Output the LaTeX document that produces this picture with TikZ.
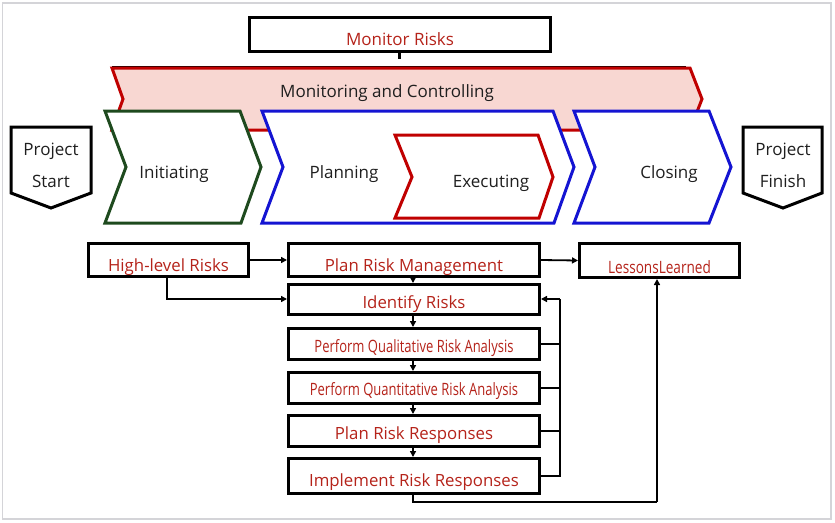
\documentclass[tikz,border=0pt]{standalone}
\usepackage{graphicx}
\usepackage{fontspec}
\setmainfont{Open Sans}
\usetikzlibrary{arrows.meta}
\definecolor{rtext}{HTML}{B5231A}
\definecolor{chred}{HTML}{C00000}
\definecolor{chblue}{HTML}{1414D2}
\definecolor{chgreen}{HTML}{1E4A1E}
\definecolor{pinkfill}{HTML}{F8D7D2}
\definecolor{frame}{HTML}{D4D4D8}
\tikzset{
  chev/.style={line width=3pt, line join=miter, fill=white},
  boxr/.style={draw=black, line width=3pt, fill=white},
  conn/.style={draw=black, line width=1.8pt, -{Triangle[length=6pt,width=6pt]}},
  plain/.style={draw=black, line width=1.8pt},
  phase/.style={font=\fontsize{17}{20}\selectfont, text=black!88},
  rlab/.style={font=\fontsize{16.8}{19}\selectfont, text=rtext, inner sep=0pt},
  rcond/.style={font=\fontsize{17}{20}\selectfont, text=rtext, inner sep=0pt},
}
\begin{document}
\begin{tikzpicture}[x=1pt,y=-1pt]
\useasboundingbox (0,0) rectangle (835,522);
\fill[white] (0,0) rectangle (835,522);
\draw[frame, line width=1.5pt] (2.5,3) rectangle (831,519);

% Monitor Risks
\node[boxr, minimum width=301pt, minimum height=34pt, anchor=north west, inner sep=0pt] (mr) at (248,16) {};
\node[rlab, font=\fontsize{17}{20}\selectfont] at ([yshift=-5pt]mr.center) {Monitor Risks};
% bracket
\coordinate (bl) at (112,67);
\coordinate (br) at (686,67);
\coordinate (bm) at (399,59);
\draw[black, line width=3pt, line join=miter] (bl) |- (br);
\draw[black, line width=3pt] (mr.south -| bm) -- (bm);

% Monitoring and controlling
\draw[chred, fill=pinkfill, line width=3pt, line join=miter] (112,68) -- (690,68) -- (702,99) -- (690,130) -- (112,130) -- (123,99) -- cycle;
\node[phase] (mc) at (387,93) {Monitoring and Controlling};

% Initiating
\draw[chev, draw=chgreen] (105,111) -- (240,111) -- (261,167) -- (241,223) -- (105,223) -- (126,167) -- cycle;
\node[phase] (ini) at (174,174) {Initiating};
% Planning
\draw[chev, draw=chblue] (262,111) -- (553,111) -- (574,167) -- (554,223) -- (262,223) -- (283,167) -- cycle;
\node[phase] (pla) at (344,174) {Planning};
% Executing
\draw[chev, draw=chred] (395,135) -- (538,135) -- (553,177) -- (539,218) -- (395,218) -- (412,177) -- cycle;
\node[phase] (exe) at (491,183) {Executing};
% Closing
\draw[chev, draw=chblue] (574,111) -- (709,111) -- (731,167) -- (709,223) -- (574,223) -- (595,167) -- cycle;
\node[phase] (clo) at (669,174) {Closing};

% Project start / finish
\draw[black, line width=3pt, line join=miter, fill=white] (11,127) -- (91,127) -- (91,193) -- (51,208) -- (11,193) -- cycle;
\node[phase] (ps1) at (51,151) {Project};
\node[phase] (ps2) at (51,181) {Start};
\draw[black, line width=3pt, line join=miter, fill=white] (743,127) -- (822,127) -- (822,193) -- (783,208) -- (743,193) -- cycle;
\node[phase] (pf1) at (783,151) {Project};
\node[phase] (pf2) at (783,181) {Finish};

% lower boxes
\node[boxr, minimum width=160pt, minimum height=33pt, anchor=north west, inner sep=0pt] (hl) at (87,242) {};
\node[rlab] at ([yshift=-7.5pt]hl.center) {High-level Risks};
\node[boxr, minimum width=251pt, minimum height=33pt, anchor=north west, inner sep=0pt] (prm) at (287,242) {};
\node[rlab] at ([yshift=-7pt]prm.center) {Plan Risk Management};
\node[boxr, minimum width=160pt, minimum height=34pt, anchor=north west, inner sep=0pt] (ll) at (578,242) {};
\node[rcond] at ([yshift=-7pt]ll.center) {\scalebox{0.8}[1]{LessonsLearned}};
\node[boxr, minimum width=251pt, minimum height=30pt, anchor=north west, inner sep=0pt] (ir) at (287,283) {};
\node[rlab] at ([yshift=-5pt]ir.center) {Identify Risks};
\node[boxr, minimum width=251pt, minimum height=31pt, anchor=north west, inner sep=0pt] (pql) at (287,327) {};
\node[rcond] at ([yshift=-4pt]pql.center) {\scalebox{0.765}[1]{Perform Qualitative Risk Analysis}};
\node[boxr, minimum width=251pt, minimum height=31pt, anchor=north west, inner sep=0pt] (pqn) at (287,371) {};
\node[rcond] at ([yshift=-3pt]pqn.center) {\scalebox{0.765}[1]{Perform Quantitative Risk Analysis}};
\node[boxr, minimum width=251pt, minimum height=31pt, anchor=north west, inner sep=0pt] (prr) at (287,414) {};
\node[rlab] at ([yshift=-4pt]prr.center) {Plan Risk Responses};
\node[boxr, minimum width=251pt, minimum height=35pt, anchor=north west, inner sep=0pt] (irr) at (287,457) {};
\node[rlab] at ([yshift=-6pt]irr.center) {Implement Risk Responses};

% connectors
\draw[conn] (hl.east) -- (prm.west);
\draw[conn] (prm.east) -- (ll.west);
\coordinate (hlx) at (167,299);
\draw[conn] (hl.south -| hlx) |- (ir.west |- hlx);
\coordinate (cx) at (413,0);
\draw[conn] (prm.south -| cx) -- (ir.north -| cx);
\draw[conn] (ir.south -| cx) -- (pql.north -| cx);
\draw[conn] (pql.south -| cx) -- (pqn.north -| cx);
\draw[conn] (pqn.south -| cx) -- (prr.north -| cx);
\draw[conn] (prr.south -| cx) -- (irr.north -| cx);
% feedback
\coordinate (fx) at (560,299);
\draw[plain] (pql.east) -- (pql.east -| fx);
\draw[plain] (pqn.east) -- (pqn.east -| fx);
\draw[plain] (prr.east) -- (prr.east -| fx);
\draw[plain, line join=miter] (irr.east) -| (fx);
\draw[conn] (fx) -- (ir.east |- fx);
% to lessons learned
\coordinate (lb) at (413,502);
\coordinate (lr) at (657,502);
\draw[plain, line join=miter] (irr.south -| lb) -- (lb) -- (lr);
\draw[conn] (lr) -- (ll.south -| lr);
\end{tikzpicture}
\end{document}
